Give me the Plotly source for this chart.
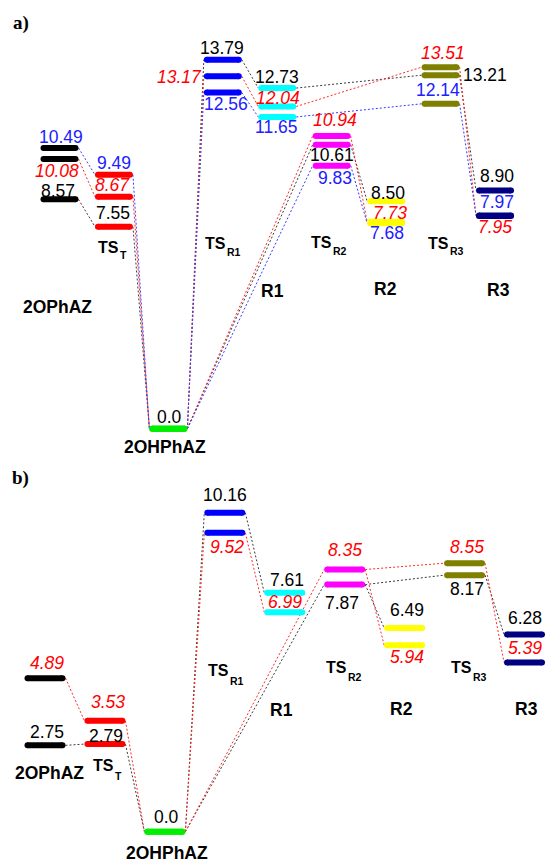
import plotly.graph_objects as go

# ---- data -------------------------------------------------------------
# state names: (main text, subscript)
states = [("2OPhAZ", ""), ("TS", "T"), ("2OHPhAZ", ""), ("TS", "R1"), ("R1", ""),
          ("TS", "R2"), ("R2", ""), ("TS", "R3"), ("R3", "")]

# relative energies, panel a (three levels of theory)
a_black = [8.57, 7.55, 0.0, 13.79, 12.73, 10.61, 8.50, 13.21, 8.90]
a_red = [10.08, 8.67, 0.0, 13.17, 12.04, 10.94, 7.73, 13.51, 7.95]
a_blue = [10.49, 9.49, 0.0, 12.56, 11.65, 9.83, 7.68, 12.14, 7.97]

# relative energies, panel b (two levels of theory)
b_black = [2.75, 2.79, 0.0, 10.16, 7.61, 7.87, 6.49, 8.17, 6.28]
b_red = [4.89, 3.53, 0.0, 9.52, 6.99, 8.35, 5.94, 8.55, 5.39]

# connections between states along the reaction paths
a_links = [(0, 1), (1, 2), (2, 3), (3, 4), (4, 7), (7, 8), (2, 5), (5, 6)]
b_links = [(0, 1), (1, 2), (2, 3), (3, 4), (2, 5), (5, 7), (7, 8), (5, 6)]

# ---- styles -----------------------------------------------------------
bar_colors = ["#000000", "#ff0000", "#00ee00", "#0000ff", "#00ffff",
              "#ff00ff", "#ffff00", "#808000", "#000080"]
series_style = {
    "black": dict(line="#3a3a3a", text="#000000", style="normal"),
    "red": dict(line="#ff2a2a", text="#ff0000", style="italic"),
    "blue": dict(line="#3a3aff", text="#2020ff", style="normal"),
}

W, H = 547, 862
NUM_FONT = "Liberation Sans, Arial, sans-serif"
NUM_SIZE = 17.5
NAME_SIZE = 17.5
TS_SIZE = 16
SUB_SIZE = 10.5

# panel geometry in pixels
panels = {
    "a": dict(xref="x", yref="y", c0=59.5, step=54.44, half=16.0,
              zero=428.7, scale=26.76, top=0, bottom=465),
    "b": dict(xref="x2", yref="y2", c0=45.0, step=59.94, half=17.5,
              zero=831.7, scale=31.4, top=465, bottom=862),
}

# value-label offsets (dx, dy) in pixels from the bar centre; None = no label
a_offsets = {
    "black": [(-1.5, -8.5), (-1, -13.7), (1.6, -11.7), (-1, -11.7), (-0.6, -11.3),
              (0, 10), (2, -8), (44, 0), (2, -15)],
    "red": [(-2.5, 12), (-1, -11.7), None, (-43, 0.7), (0.4, -9),
            (3, -16), (4, -9.3), (2, -14), (0, 11)],
    "blue": [(1.5, -11), (0, -11.7), None, (3, 11.4), (-0.6, 9.8),
             (3, 12.4), (1, 10), (-3, -14), (2, -13.4)],
}
b_offsets = {
    "black": [(2, -13), (1, -8), (2, -15), (0, -18), (2, -12.7),
              (-3, 18), (2.4, -18), (2.4, 14), (0.5, -16.5)],
    "red": [(2, -15), (3, -19), None, (2, 14), (0, -10.5),
            (0, -19.5), (2.4, 12), (2.4, -16), (0.5, -14.5)],
}

# state-name placement in pixels: plain names -> (centre x, y);
# subscripted names -> (right edge of main text, main y, subscript y)
a_name_pos = [(57, 307), (120, 247, 255), (165, 447), (227, 243, 251.5), (272, 291),
              (333, 242, 251), (385.5, 289), (450, 243, 251), (498.5, 290)]
b_name_pos = [(49.5, 773), (115, 765, 776), (167, 853), (230, 670, 681), (281, 710),
              (348, 667, 677), (401, 709), (473, 667, 677), (526.5, 709)]

fig = go.Figure()
annotations = []


def fmt(v):
    return "0.0" if v == 0 else f"{v:.2f}"


def draw_panel(key, series, links, offsets, name_pos):
    p = panels[key]
    xr, yr = p["xref"], p["yref"]
    h = p["half"] / p["step"]          # half bar length in index units
    cap = (p["half"] + 3) / p["step"]  # including rounded end

    def px_to_y(py):
        return (p["zero"] - py) / p["scale"]

    # dotted connectors
    for name, vals in series.items():
        xs, ys = [], []
        for i, j in links:
            xs += [i + cap, j - cap, None]
            ys += [vals[i], vals[j], None]
        fig.add_trace(go.Scatter(
            x=xs, y=ys, mode="lines", xaxis=xr, yaxis=yr, hoverinfo="skip",
            line=dict(color=series_style[name]["line"], width=1, dash="2px,2px"),
            showlegend=False))

    # energy levels
    for k, col in enumerate(bar_colors):
        xs, ys = [], []
        for vals in series.values():
            xs += [k - h, k + h, None]
            ys += [vals[k], vals[k], None]
        fig.add_trace(go.Scatter(
            x=xs, y=ys, mode="lines+markers", xaxis=xr, yaxis=yr,
            hoverinfo="skip", line=dict(color=col, width=6),
            marker=dict(color=col, size=6, symbol="circle", line=dict(width=0)),
            showlegend=False))

    # value labels
    for name, vals in series.items():
        st = series_style[name]
        for k, v in enumerate(vals):
            off = offsets[name][k]
            if off is None:
                continue
            annotations.append(dict(
                x=k, y=v, xref=xr, yref=yr, text=fmt(v), showarrow=False,
                xshift=off[0], yshift=-off[1],
                font=dict(family=NUM_FONT, size=NUM_SIZE, color=st["text"],
                          style=st["style"]),
                xanchor="center", yanchor="middle"))

    # state names
    for k, (main, sub) in enumerate(states):
        pos = name_pos[k]
        centre = p["c0"] + p["step"] * k
        if not sub:
            annotations.append(dict(
                x=k, y=px_to_y(pos[1]), xref=xr, yref=yr, text=main,
                showarrow=False, xshift=pos[0] - centre,
                font=dict(family=NUM_FONT, size=NAME_SIZE, color="#000000",
                          weight="bold"),
                xanchor="center", yanchor="middle"))
        else:
            annotations.append(dict(
                x=k, y=px_to_y(pos[1]), xref=xr, yref=yr, text=main,
                showarrow=False, xshift=pos[0] - centre,
                font=dict(family=NUM_FONT, size=TS_SIZE, color="#000000",
                          weight="bold"),
                xanchor="right", yanchor="middle", borderpad=0))
            annotations.append(dict(
                x=k, y=px_to_y(pos[2]), xref=xr, yref=yr, text=sub,
                showarrow=False, xshift=pos[0] - centre - 1,
                font=dict(family=NUM_FONT, size=SUB_SIZE, color="#000000",
                          weight="bold"),
                xanchor="left", yanchor="middle", borderpad=0))


draw_panel("a", {"black": a_black, "red": a_red, "blue": a_blue},
           a_links, a_offsets, a_name_pos)
draw_panel("b", {"black": b_black, "red": b_red},
           b_links, b_offsets, b_name_pos)

# panel letters
for letter, px, py in [("a)", 20.5, 22.5), ("b)", 20.0, 477.5)]:
    annotations.append(dict(
        x=px / W, y=1 - py / H, xref="paper", yref="paper",
        text=letter, showarrow=False,
        font=dict(family="Liberation Serif, Times New Roman, serif", size=19,
                  color="#000000", weight="bold"),
        xanchor="center", yanchor="middle"))


def axis_ranges(p):
    xr = [(0 - p["c0"]) / p["step"], (W - p["c0"]) / p["step"]]
    yr = [(p["zero"] - p["bottom"]) / p["scale"], (p["zero"] - p["top"]) / p["scale"]]
    dom = [1 - p["bottom"] / H, 1 - p["top"] / H]
    return xr, yr, dom


hidden = dict(visible=False, showgrid=False, zeroline=False, fixedrange=True)
xa, ya, da = axis_ranges(panels["a"])
xb, yb, db = axis_ranges(panels["b"])

fig.update_layout(
    width=W, height=H,
    margin=dict(l=0, r=0, t=0, b=0),
    paper_bgcolor="white", plot_bgcolor="white",
    xaxis=dict(range=xa, domain=[0, 1], anchor="y", **hidden),
    yaxis=dict(range=ya, domain=da, anchor="x", **hidden),
    xaxis2=dict(range=xb, domain=[0, 1], anchor="y2", **hidden),
    yaxis2=dict(range=yb, domain=db, anchor="x2", **hidden),
    annotations=annotations,
    showlegend=False,
)

fig.write_html("out.html")
